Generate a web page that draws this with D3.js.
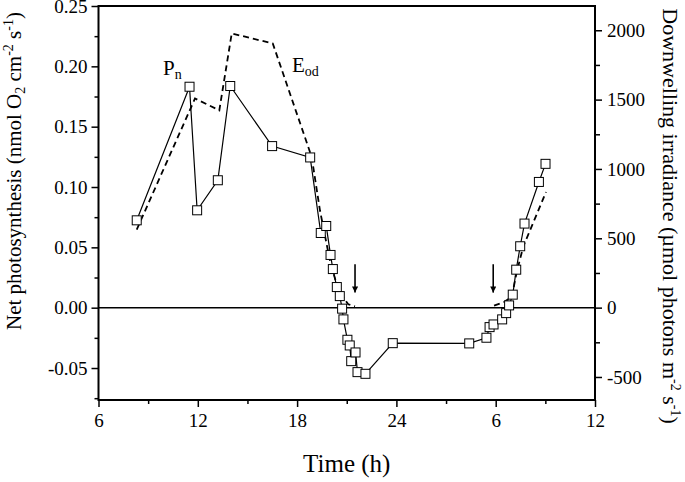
<!DOCTYPE html>
<html>
<head>
<meta charset="utf-8">
<script src="https://cdn.jsdelivr.net/npm/d3@7"></script>
<style>
  body { margin: 0; background: #fff; }
  text { font-family: "Liberation Serif", "Times New Roman", serif; fill: #000; }
</style>
</head>
<body>
<div id="chart"></div>
<script>
// ---------- data ----------
// net photosynthesis (Pn), time in hours since midnight of day 1
var pnTime = [8.31, 11.5, 11.96, 13.21, 13.96, 16.49, 18.79, 19.43, 19.76, 20.02, 20.16, 20.40, 20.58, 20.72, 20.80,
              21.04, 21.18, 21.27, 21.53, 21.65, 22.13, 23.78, 28.40, 29.44, 29.63, 29.87, 30.39, 30.63, 30.81,
              31.03, 31.24, 31.48, 31.74, 32.61, 33.01];
var pnValue = [0.0724, 0.1831, 0.0807, 0.1056, 0.1837, 0.1339, 0.1245, 0.0619, 0.0677, 0.0437, 0.0320, 0.0171, 0.0096, -0.0008, -0.0097,
               -0.0266, -0.0313, -0.0443, -0.0371, -0.0534, -0.0548, -0.0294, -0.0296, -0.0249, -0.0161, -0.0139, -0.0097, -0.0045, 0.0019,
               0.0108, 0.0315, 0.0509, 0.0697, 0.1042, 0.1192];

// downwelling irradiance (Eod), null = break in the line (night)
var eodTime  = [8.31, 11.83, 13.30, 14.05, 16.53, 18.88, 19.38, 19.98, 20.49, 21.09, 21.5, 25, 29.9, 30.5, 30.97, 31.27, 31.67, 33.04];
var eodValue = [563, 1508, 1423, 1977, 1905, 1087, 702, 341, 125, 24, 9, null, 15, 40, 76, 257, 442, 834];

// arrows marking sunset / sunrise
var arrowTime = [21.5, 29.85];

var xTicks = [6, 12, 18, 24, 30, 36];
var xTickLabels = ["6", "12", "18", "24", "6", "12"];
var xMinor = [9, 15, 21, 27, 33];
var leftTicks = [-0.05, 0, 0.05, 0.10, 0.15, 0.20, 0.25];
var leftMinor = [-0.075, -0.025, 0.025, 0.075, 0.125, 0.175, 0.225];
var rightTicks = [-500, 0, 500, 1000, 1500, 2000];
var rightMinor = [-250, 250, 750, 1250, 1750];

// ---------- chart setup ----------
var svgWidth = 685, svgHeight = 482;
var plotLeft = 98.5, plotRight = 595, plotTop = 6, plotBottom = 400;

var svg = d3.select("#chart").append("svg")
  .attr("width", svgWidth).attr("height", svgHeight);

var x = d3.scaleLinear().domain([6, 36]).range([plotLeft, plotRight]);
var yL = d3.scaleLinear().domain([-0.0765, 0.25]).range([plotBottom, plotTop]);
var yR = d3.scaleLinear().domain([-666, 2175]).range([plotBottom, plotTop]);

// ---------- axes ----------
function styleAxis(g) {
  g.select(".domain").remove();
  g.selectAll("line").attr("stroke", "#000").attr("stroke-width", 1.5);
  g.selectAll("text").attr("font-size", "19px").attr("fill", "#000")
    .attr("font-family", "Liberation Serif, serif");
}

svg.append("g").attr("transform", `translate(0,${plotBottom})`)
  .call(d3.axisBottom(x).tickValues(xTicks).tickSize(7).tickPadding(7)
    .tickFormat((d, i) => xTickLabels[i]))
  .call(styleAxis);
svg.append("g").attr("transform", `translate(0,${plotBottom})`)
  .call(d3.axisBottom(x).tickValues(xMinor).tickSize(4).tickFormat(""))
  .call(styleAxis);

svg.append("g").attr("transform", `translate(${plotLeft},0)`)
  .call(d3.axisLeft(yL).tickValues(leftTicks).tickSize(7).tickPadding(4)
    .tickFormat(d => d.toFixed(2)))
  .call(styleAxis);
svg.append("g").attr("transform", `translate(${plotLeft},0)`)
  .call(d3.axisLeft(yL).tickValues(leftMinor).tickSize(4).tickFormat(""))
  .call(styleAxis);

svg.append("g").attr("transform", `translate(${plotRight},0)`)
  .call(d3.axisRight(yR).tickValues(rightTicks).tickSize(7).tickPadding(5)
    .tickFormat(d => String(d)))
  .call(styleAxis);
svg.append("g").attr("transform", `translate(${plotRight},0)`)
  .call(d3.axisRight(yR).tickValues(rightMinor).tickSize(5).tickFormat(""))
  .call(styleAxis);

// frame + zero line
svg.append("rect")
  .attr("x", plotLeft).attr("y", plotTop)
  .attr("width", plotRight - plotLeft).attr("height", plotBottom - plotTop)
  .attr("fill", "none").attr("stroke", "#000").attr("stroke-width", 2);
svg.append("line")
  .attr("x1", plotLeft).attr("x2", plotRight)
  .attr("y1", yL(0)).attr("y2", yL(0))
  .attr("stroke", "#000").attr("stroke-width", 1.6);

// ---------- Eod dashed line ----------
var eodData = eodTime.map((t, i) => ({t: t, v: eodValue[i]}));
svg.append("path")
  .datum(eodData)
  .attr("fill", "none")
  .attr("stroke", "#000")
  .attr("stroke-width", 1.8)
  .attr("stroke-dasharray", "6,4")
  .attr("d", d3.line().defined(d => d.v !== null).x(d => x(d.t)).y(d => yR(d.v)));

// ---------- Pn line + squares ----------
var pnData = pnTime.map((t, i) => ({t: t, v: pnValue[i]}));
svg.append("path")
  .datum(pnData)
  .attr("fill", "none")
  .attr("stroke", "#000")
  .attr("stroke-width", 1.2)
  .attr("d", d3.line().x(d => x(d.t)).y(d => yL(d.v)));

svg.append("g").selectAll("rect")
  .data(pnData)
  .enter()
  .append("rect")
  .attr("x", d => x(d.t) - 4.5)
  .attr("y", d => yL(d.v) - 4.5)
  .attr("width", 9).attr("height", 9)
  .attr("fill", "#fff")
  .attr("stroke", "#000")
  .attr("stroke-width", 1);

// ---------- arrows ----------
svg.append("defs").append("marker")
  .attr("id", "head").attr("viewBox", "0 0 10 10")
  .attr("refX", 10).attr("refY", 5)
  .attr("markerWidth", 7).attr("markerHeight", 6)
  .attr("markerUnits", "userSpaceOnUse")
  .attr("orient", "auto")
  .append("path").attr("d", "M0,0L10,5L0,10Z").attr("fill", "#000");

svg.append("g").selectAll("line")
  .data(arrowTime)
  .enter()
  .append("line")
  .attr("x1", d => x(d)).attr("x2", d => x(d))
  .attr("y1", yL(0.036)).attr("y2", yL(0.0125))
  .attr("stroke", "#000").attr("stroke-width", 1.6)
  .attr("marker-end", "url(#head)");

// ---------- series labels ----------
var pnLabel = svg.append("text").attr("x", 163).attr("y", 75).attr("font-size", "21px");
pnLabel.append("tspan").text("P");
pnLabel.append("tspan").attr("font-size", "14px").attr("dy", 4).text("n");

var eodLabel = svg.append("text").attr("x", 292).attr("y", 72).attr("font-size", "21px");
eodLabel.append("tspan").text("E");
eodLabel.append("tspan").attr("font-size", "14px").attr("dy", 4).text("od");

// ---------- axis titles ----------
svg.append("text")
  .attr("x", (plotLeft + plotRight) / 2).attr("y", 472)
  .attr("text-anchor", "middle").attr("font-size", "25px")
  .text("Time (h)");

var lt = svg.append("text")
  .attr("transform", "translate(21,171) rotate(-90)")
  .attr("text-anchor", "middle").attr("font-size", "21px");
lt.append("tspan").text("Net photosynthesis (nmol O");
lt.append("tspan").attr("font-size", "14px").attr("dy", 4).text("2");
lt.append("tspan").attr("dy", -4).text(" cm");
lt.append("tspan").attr("font-size", "14px").attr("dy", -8).text("-2");
lt.append("tspan").attr("dy", 8).text(" s");
lt.append("tspan").attr("font-size", "14px").attr("dy", -8).text("-1");
lt.append("tspan").attr("dy", 8).text(")");

var rt = svg.append("text")
  .attr("transform", "translate(663,216) rotate(90)")
  .attr("text-anchor", "middle").attr("font-size", "22px");
rt.append("tspan").text("Downwelling irradiance (µmol photons m");
rt.append("tspan").attr("font-size", "14px").attr("dy", -8).text("-2");
rt.append("tspan").attr("dy", 8).text(" s");
rt.append("tspan").attr("font-size", "14px").attr("dy", -8).text("-1");
rt.append("tspan").attr("dy", 8).text(")");
</script>
</body>
</html>
